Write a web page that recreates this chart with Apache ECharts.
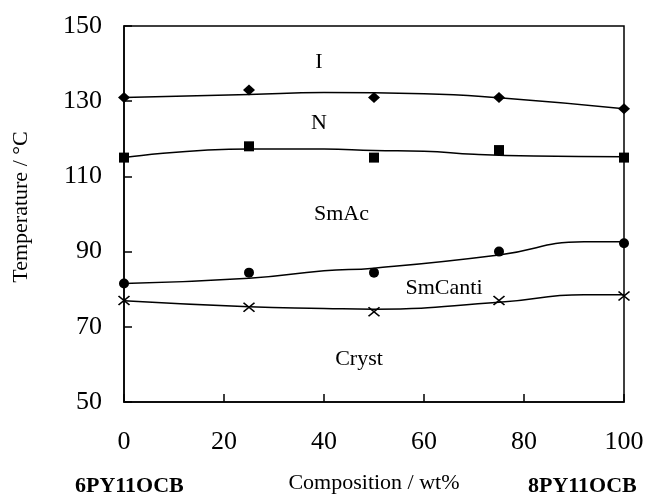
<!DOCTYPE html>
<html>
<head>
<meta charset="utf-8">
<script src="https://cdn.jsdelivr.net/npm/echarts@6/dist/echarts.min.js"></script>
<style>
  html, body { margin: 0; padding: 0; background: #fff; }
  #chart { width: 647px; height: 498px; }
</style>
</head>
<body>
<div id="chart"></div>
<script>
// composition (wt% of 8PY11OCB)
const composition = [0, 25, 50, 75, 100];

// measured transition temperatures
const isoPoints = [131, 133, 131, 131, 128];
const nemPoints = [115, 118, 115, 117, 115];
const smaPoints = [81.5, 84.4, 84.4, 90, 92.2];
const crystPoints = [77, 75.2, 74, 77, 78.2];

// fitted boundary curves
const isoCurve = [[0, 131], [25, 131.8], [40, 132.3], [60, 132], [75, 130.9], [100, 128]];
const nemCurve = [[0, 115], [25, 117.3], [40, 117.3], [50, 116.9], [60, 116.7], [70, 115.9], [82, 115.4], [100, 115.2]];
const smaCurve = [[0, 81.5], [25, 82.9], [40, 84.9], [50, 85.6], [75, 89.1], [92, 92.6], [100, 92.6]];
const crystCurve = [[0, 76.9], [25, 75.3], [40, 74.9], [50, 74.7], [75, 76.5], [92, 78.5], [100, 78.5]];

// phase region labels (composition, temperature)
const phaseLabels = [
  ['I', 39, 140.4],
  ['N', 39, 124.2],
  ['SmAc', 43.5, 100],
  ['SmCanti', 64, 80.3],
  ['Cryst', 47, 61.4]
];

const xTicks = { min: 0, max: 100, interval: 20 };
const yTicks = { min: 50, max: 150, interval: 20 };

const serif = '"Liberation Serif", "Times New Roman", serif';
const chart = echarts.init(document.getElementById('chart'));

const pts = arr => composition.map((c, i) => [c, arr[i]]);

function curve(data) {
  return {
    type: 'line', data: data, smooth: true, symbol: 'none', silent: true,
    lineStyle: { color: '#000', width: 1.5 }, z: 2
  };
}
function marks(data, symbol, size) {
  return {
    type: 'scatter', data: pts(data), symbol: symbol, symbolSize: size, z: 3,
    itemStyle: { color: '#000', opacity: 1 }
  };
}

chart.setOption({
  animation: false,
  grid: {
    left: 124, right: 23, top: 26, bottom: 96,
    outerBoundsMode: 'none',
    show: true, borderColor: '#000', borderWidth: 1.5
  },
  xAxis: {
    type: 'value', min: xTicks.min, max: xTicks.max, interval: xTicks.interval,
    name: 'Composition / wt%', nameLocation: 'middle', nameGap: 70,
    nameTextStyle: { fontFamily: serif, fontSize: 22, color: '#000' },
    axisLine: { lineStyle: { color: '#000', width: 1.5 } },
    axisTick: { inside: true, length: 8, lineStyle: { color: '#000', width: 1.5 } },
    axisLabel: { fontFamily: serif, fontSize: 26, color: '#000', margin: 27 },
    splitLine: { show: false }
  },
  yAxis: {
    type: 'value', min: yTicks.min, max: yTicks.max, interval: yTicks.interval,
    name: 'Temperature / °C', nameLocation: 'middle', nameGap: 92,
    nameTextStyle: { fontFamily: serif, fontSize: 22, color: '#000', padding: [0, 0, 0, 14] },
    axisLine: { lineStyle: { color: '#000', width: 1.5 } },
    axisTick: { inside: true, length: 8, lineStyle: { color: '#000', width: 1.5 } },
    axisLabel: { fontFamily: serif, fontSize: 26, color: '#000', margin: 22 },
    splitLine: { show: false }
  },
  series: [
    curve(isoCurve),
    curve(nemCurve),
    curve(smaCurve),
    curve(crystCurve),
    marks(isoPoints, 'diamond', [12, 11]),
    marks(nemPoints, 'rect', 10),
    marks(smaPoints, 'circle', 10),
    {
      type: 'scatter', data: pts(crystPoints), z: 3,
      symbol: 'path://M0,0L10,10M10,0L0,10', symbolSize: [11, 9],
      itemStyle: { color: 'none', borderColor: '#000', borderWidth: 1.5, opacity: 1 }
    },
    {
      type: 'scatter', silent: true, symbolSize: 0, z: 4,
      itemStyle: { color: 'transparent', opacity: 1 },
      data: phaseLabels.map(d => ({ name: d[0], value: [d[1], d[2]] })),
      label: {
        show: true, position: 'inside', formatter: '{b}',
        fontFamily: serif, fontSize: 22, color: '#000',
        textBorderWidth: 0
      }
    }
  ],
  graphic: [
    {
      type: 'text', left: 75, top: 475,
      style: { text: '6PY11OCB', font: 'bold 22px ' + serif, fill: '#000' }
    },
    {
      type: 'text', left: 528, top: 475,
      style: { text: '8PY11OCB', font: 'bold 22px ' + serif, fill: '#000' }
    }
  ]
});
</script>
</body>
</html>
